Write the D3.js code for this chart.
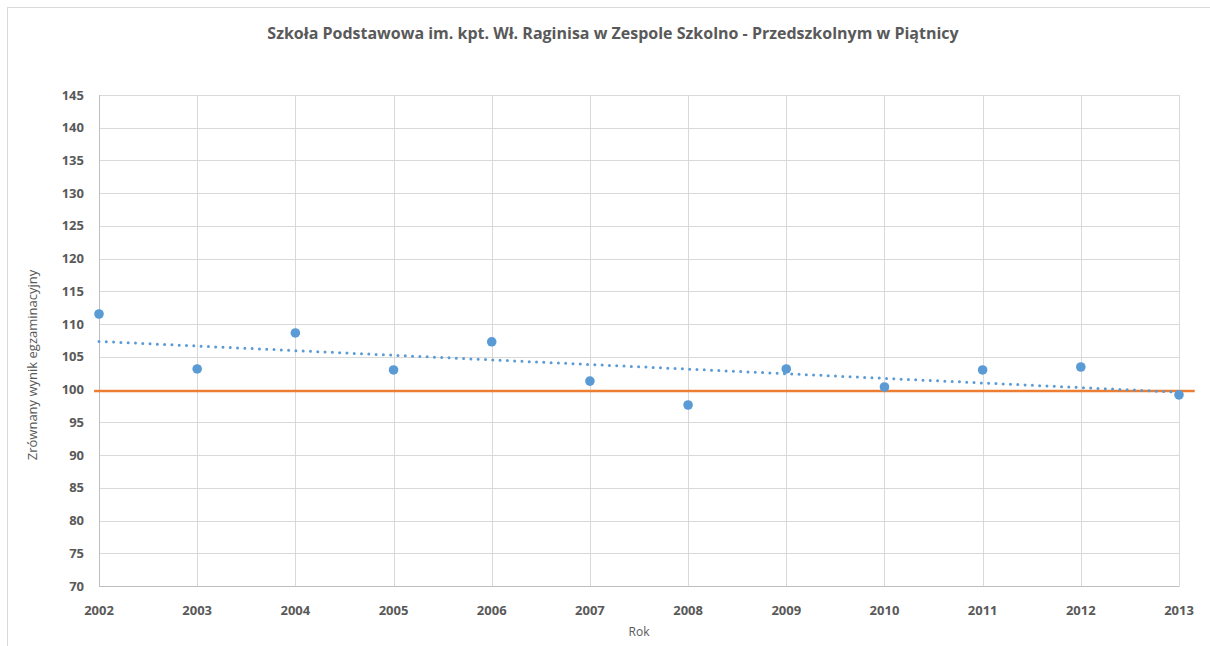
<!DOCTYPE html>
<html>
<head>
<meta charset="utf-8">
<script src="https://cdn.jsdelivr.net/npm/d3@7"></script>
<style>
  body { margin: 0; background: #fff; }
  text { font-family: "Open Sans", Lato, sans-serif; fill: #595959; }
</style>
</head>
<body>
<div id="chart"></div>
<script>
var years = [2002, 2003, 2004, 2005, 2006, 2007, 2008, 2009, 2010, 2011, 2012, 2013];
var scores = [111.55, 103.15, 108.65, 103.0, 107.3, 101.3, 97.65, 103.15, 100.4, 103.0, 103.45, 99.2];
var refYears = [2001.95, 2013.16];
var refValues = [99.8, 99.8];
var yTicks = [70, 75, 80, 85, 90, 95, 100, 105, 110, 115, 120, 125, 130, 135, 140, 145];

var width = 1210, height = 646;
var plotLeft = 99, plotRight = 1179, plotTop = 95, plotBottom = 586;

var svg = d3.select("#chart").append("svg")
    .attr("width", width)
    .attr("height", height);

// chart frame
svg.append("rect")
    .attr("x", 7.5).attr("y", 7.5)
    .attr("width", 1250).attr("height", 700)
    .attr("fill", "none")
    .attr("stroke", "#d9d9d9");

var x = d3.scaleLinear().domain([2002, 2013]).range([plotLeft, plotRight]);
var y = d3.scaleLinear().domain([70, 145]).range([plotBottom, plotTop]);

// gridlines
svg.append("g").selectAll("line")
    .data(yTicks)
    .enter().append("line")
    .attr("x1", plotLeft).attr("x2", plotRight)
    .attr("y1", d => Math.round(y(d)) + 0.5).attr("y2", d => Math.round(y(d)) + 0.5)
    .attr("stroke", "#d9d9d9");

svg.append("g").selectAll("line")
    .data(years)
    .enter().append("line")
    .attr("x1", d => Math.round(x(d)) + 0.5).attr("x2", d => Math.round(x(d)) + 0.5)
    .attr("y1", plotTop).attr("y2", plotBottom)
    .attr("stroke", "#d9d9d9");

// axis lines
svg.append("line")
    .attr("x1", plotLeft + 0.5).attr("x2", plotLeft + 0.5)
    .attr("y1", plotTop).attr("y2", plotBottom + 0.5)
    .attr("stroke", "#bfbfbf");
svg.append("line")
    .attr("x1", plotLeft).attr("x2", plotRight + 0.5)
    .attr("y1", plotBottom + 0.5).attr("y2", plotBottom + 0.5)
    .attr("stroke", "#bfbfbf");

// tick labels
svg.append("g").selectAll("text")
    .data(yTicks)
    .enter().append("text")
    .attr("x", 84)
    .attr("y", d => y(d))
    .attr("dy", "0.35em")
    .attr("text-anchor", "end")
    .style("font-size", "13px")
    .style("font-weight", "bold")
    .text(d => d);

svg.append("g").selectAll("text")
    .data(years)
    .enter().append("text")
    .attr("x", d => x(d))
    .attr("y", 610)
    .attr("dy", "0.35em")
    .attr("text-anchor", "middle")
    .style("font-size", "13px")
    .style("font-weight", "bold")
    .text(d => d);

// reference line
var refData = refYears.map((d, i) => ({ year: d, v: refValues[i] }));
svg.append("path")
    .datum(refData)
    .attr("d", d3.line().x(d => x(d.year)).y(d => y(d.v)))
    .attr("fill", "none")
    .attr("stroke", "#ed7d31")
    .attr("stroke-width", 2.5);

// linear trend of the scores
var mx = d3.mean(years), my = d3.mean(scores);
var sxy = d3.sum(years, (d, i) => (d - mx) * (scores[i] - my));
var sxx = d3.sum(years, d => (d - mx) * (d - mx));
var slope = sxy / sxx;
var trend = [years[0], years[years.length - 1]].map(d => ({ year: d, v: my + slope * (d - mx) }));

svg.append("path")
    .datum(trend)
    .attr("d", d3.line().x(d => x(d.year)).y(d => y(d.v)))
    .attr("fill", "none")
    .attr("stroke", "#5b9bd5")
    .attr("stroke-width", 3)
    .attr("stroke-linecap", "round")
    .attr("stroke-dasharray", "0 7.3");

// points
svg.append("g").selectAll("circle")
    .data(years)
    .enter().append("circle")
    .attr("cx", d => x(d))
    .attr("cy", (d, i) => y(scores[i]))
    .attr("r", 4.8)
    .attr("fill", "#5b9bd5");

// titles
svg.append("text")
    .attr("x", 613).attr("y", 33)
    .attr("dy", "0.35em")
    .attr("text-anchor", "middle")
    .style("font-size", "16px")
    .style("font-weight", "bold")
    .text("Szkoła Podstawowa im. kpt. Wł. Raginisa w Zespole Szkolno - Przedszkolnym w Piątnicy");

svg.append("text")
    .attr("x", 639).attr("y", 632)
    .attr("dy", "0.35em")
    .attr("text-anchor", "middle")
    .style("font-size", "12px")
    .text("Rok");

svg.append("text")
    .attr("transform", "translate(32,365) rotate(-90)")
    .attr("dy", "0.35em")
    .attr("text-anchor", "middle")
    .style("font-size", "13px")
    .text("Zrównany wynik egzaminacyjny");
</script>
</body>
</html>
